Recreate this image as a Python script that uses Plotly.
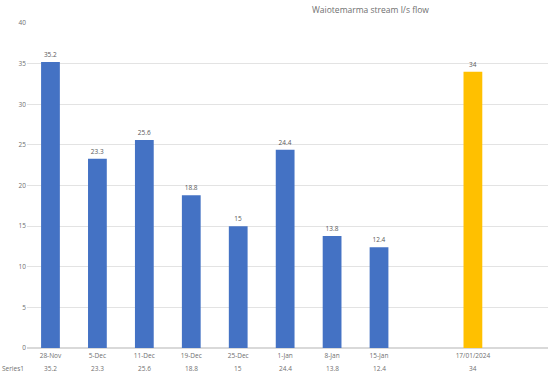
import plotly.graph_objects as go

categories = ["28-Nov", "5-Dec", "11-Dec", "19-Dec", "25-Dec", "1-Jan", "8-Jan", "15-Jan", "", "17/01/2024", ""]
values = [35.2, 23.3, 25.6, 18.8, 15, 24.4, 13.8, 12.4, None, 34, None]
colors = ["#4472C4"] * 8 + ["#4472C4", "#FFC000", "#4472C4"]
series_name = "Series1"
title = "Waiotemarma stream l/s flow"

def fmt(v):
    if v is None:
        return ""
    return ("%g" % v)

idx = list(range(len(categories)))
fig = go.Figure()
fig.add_trace(go.Bar(
    x=idx, y=values, marker=dict(color=colors, line=dict(width=0)),
    width=0.4,
    text=[fmt(v) for v in values], textposition="outside",
    textfont=dict(size=6.5, color="#595959"), cliponaxis=False,
))

for i, v in zip(idx, values):
    if v is None:
        continue
    fig.add_annotation(x=i, xref="x", y=-0.064, yref="paper", text=fmt(v),
                       showarrow=False, font=dict(size=6.5, color="#6f6f6f"),
                       xanchor="center", yanchor="middle")
fig.add_annotation(x=-0.027, xref="paper", y=-0.064, yref="paper", text=series_name,
                   showarrow=False, font=dict(size=6.5, color="#6f6f6f"),
                   xanchor="center", yanchor="middle")
fig.add_annotation(x=0.66, xref="paper", y=1.04, yref="paper", text=title,
                   showarrow=False, font=dict(size=8.5, color="#6f6f6f"),
                   xanchor="center", yanchor="middle")

fig.update_layout(
    width=548, height=375,
    margin=dict(l=27, r=0, t=23, b=27),
    paper_bgcolor="white", plot_bgcolor="white",
    showlegend=False,
    font=dict(family="Open Sans, Calibri, sans-serif", color="#6f6f6f"),
    xaxis=dict(range=[-0.5, 10.6], tickvals=idx, ticktext=categories,
               showgrid=False, zeroline=False, showline=False, ticks="",
               ticklabelstandoff=2,
               tickfont=dict(size=6.5, color="#6f6f6f")),
    yaxis=dict(range=[0, 40], dtick=5, showgrid=True, gridcolor="#E3E3E3",
               gridwidth=1, zeroline=True, zerolinecolor="#D9D9D9", showline=False,
               ticks="", tickfont=dict(size=6.5, color="#6f6f6f")),
)
fig.write_html("out.html")
